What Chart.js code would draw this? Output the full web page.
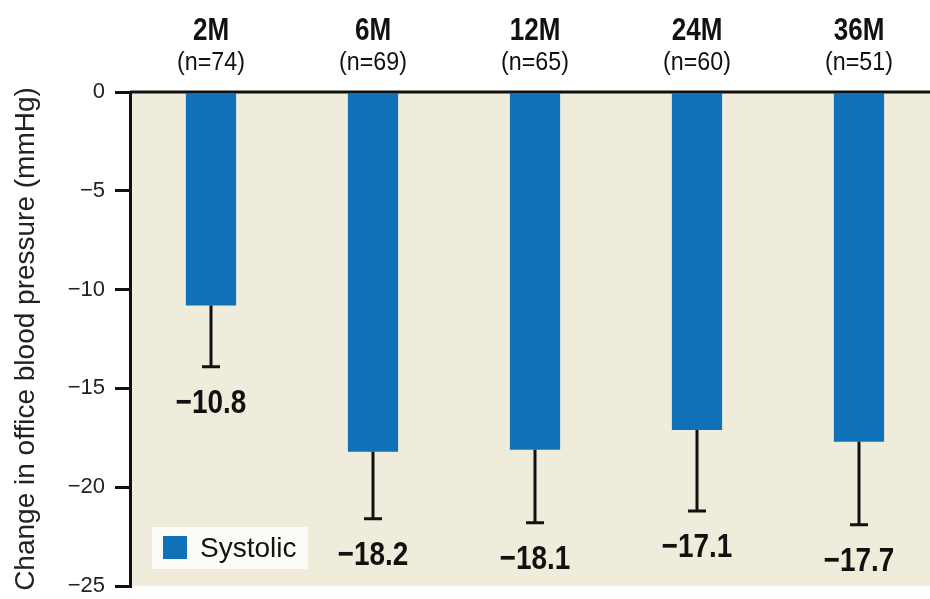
<!DOCTYPE html>
<html>
<head>
<meta charset="utf-8">
<script src="https://cdn.jsdelivr.net/npm/chart.js@4.4.1/dist/chart.umd.min.js"></script>
<style>
  html, body { margin: 0; padding: 0; background: #ffffff; overflow: hidden; }
  #wrap { position: absolute; left: 0; top: 0; width: 940px; height: 607px; }
</style>
</head>
<body>
<div id="wrap"><canvas id="c"></canvas></div>
<script>
// ---- data ----
const categories = ['2M', '6M', '12M', '24M', '36M'];
const sampleSizes = ['(n=74)', '(n=69)', '(n=65)', '(n=60)', '(n=51)'];
const systolic = [-10.8, -18.2, -18.1, -17.1, -17.7];
const errorLow = [-13.9, -21.6, -21.8, -21.2, -21.9];
const valueLabels = ['\u221210.8', '\u221218.2', '\u221218.1', '\u221217.1', '\u221217.7'];
const yTicks = [0, -5, -10, -15, -20, -25];
const seriesName = 'Systolic';
const yTitle = 'Change in office blood pressure (mmHg)';

const SANS = "'Liberation Sans', Arial, sans-serif";
const BAR = '#1070b8';

function narrowText(ctx, text, x, y, font, sx) {
  ctx.save();
  ctx.font = font;
  ctx.textAlign = 'center';
  ctx.textBaseline = 'alphabetic';
  ctx.translate(x, y);
  ctx.scale(sx, 1);
  ctx.fillText(text, 0, 0);
  ctx.restore();
}

const decor = {
  id: 'decor',
  beforeDraw(chart) {
    const {ctx, chartArea: a} = chart;
    ctx.save();
    ctx.fillStyle = '#efecdb';
    ctx.fillRect(a.left, a.top, a.right - a.left, a.bottom - a.top);
    ctx.restore();
  },
  afterDatasetsDraw(chart) {
    const {ctx, chartArea: a} = chart;
    const x = chart.scales.x, y = chart.scales.y;
    const meta = chart.getDatasetMeta(0);
    ctx.save();
    // top zero line
    const y0 = y.getPixelForValue(0);
    ctx.strokeStyle = '#111';
    ctx.lineWidth = 3;
    ctx.beginPath();
    ctx.moveTo(a.left, y0);
    ctx.lineTo(a.right, y0);
    ctx.stroke();
    ctx.fillStyle = '#111';
    // error bars + value labels
    meta.data.forEach((bar, i) => {
      const cx = bar.x;
      const yv = y.getPixelForValue(systolic[i]);
      const ye = y.getPixelForValue(errorLow[i]);
      ctx.lineWidth = 3;
      ctx.strokeStyle = '#111';
      ctx.beginPath();
      ctx.moveTo(cx, yv);
      ctx.lineTo(cx, ye);
      ctx.moveTo(cx - 9, ye);
      ctx.lineTo(cx + 9, ye);
      ctx.stroke();
      narrowText(ctx, valueLabels[i], cx, ye + 46, 'bold 34px ' + SANS, 0.82);
      // headers
      const hx = x.getPixelForValue(i);
      narrowText(ctx, categories[i], hx, a.top - 52, 'bold 31px ' + SANS, 0.84);
      narrowText(ctx, sampleSizes[i], hx, a.top - 22, '25px ' + SANS, 0.93);
    });
    // legend
    const lx = a.left + 22, ly = a.bottom - 59;
    ctx.fillStyle = '#fbfbf7';
    ctx.fillRect(lx, ly, 156, 42);
    ctx.fillStyle = BAR;
    ctx.fillRect(lx + 11, ly + 9, 24, 23);
    ctx.fillStyle = '#111';
    ctx.font = '28px ' + SANS;
    ctx.textAlign = 'left';
    ctx.textBaseline = 'middle';
    ctx.fillText(chart.data.datasets[0].label, lx + 48, ly + 22);
    ctx.restore();
  }
};

new Chart(document.getElementById('c'), {
  type: 'bar',
  data: {
    labels: categories,
    datasets: [{
      label: seriesName,
      data: systolic,
      backgroundColor: BAR,
      borderWidth: 0,
      barPercentage: 0.31,
      categoryPercentage: 1.0
    }]
  },
  options: {
    responsive: true,
    maintainAspectRatio: false,
    devicePixelRatio: 1,
    animation: false,
    layout: { padding: { left: 0, right: 0, top: 92, bottom: 2 } },
    plugins: { legend: { display: false }, tooltip: { enabled: false } },
    scales: {
      x: { display: false, offset: true },
      y: {
        min: -25, max: 0,
        afterBuildTicks(scale) { scale.ticks = yTicks.map(v => ({ value: v })); },
        afterFit(scale) { scale.width = 130; },
        ticks: {
          padding: 10,
          color: '#222',
          font: { family: SANS, size: 22, lineHeight: 1 },
          callback: v => (v < 0 ? '\u2212' + Math.abs(v) : String(v))
        },
        grid: { drawOnChartArea: false, color: '#111', lineWidth: 3, tickLength: 15 },
        border: { display: true, color: '#111', width: 3 },
        title: {
          display: true, text: yTitle, color: '#222',
          font: { family: SANS, size: 28 }, padding: { top: 9, bottom: 0 }
        }
      }
    }
  },
  plugins: [decor]
});
</script>
</body>
</html>
